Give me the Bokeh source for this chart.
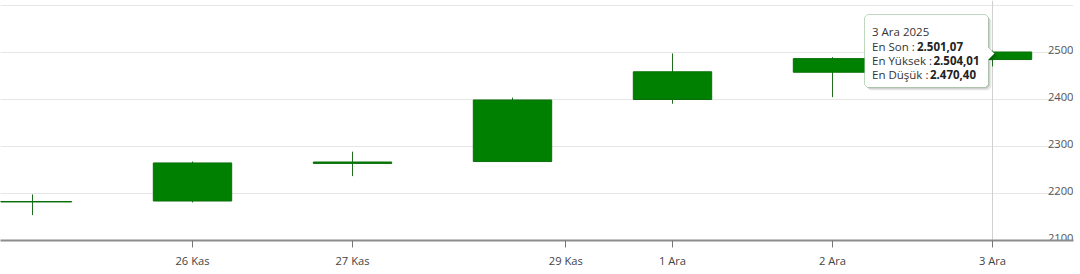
import numpy as np
import pandas as pd
from bokeh.plotting import figure
from bokeh.models import FixedTicker, Range1d, Span, PolyAnnotation, Label, Grid
from bokeh.core.properties import value
from bokeh.embed import file_html
from bokeh.resources import INLINE

# ---------------- data ----------------
dates = ["2025-11-25", "2025-11-26", "2025-11-27", "2025-11-28",
         "2025-12-01", "2025-12-02", "2025-12-03"]
open_ = [2182, 2184, 2264, 2268, 2400, 2458, 2485]
high = [2198, 2268, 2289, 2404, 2498, 2490, 2504.01]
low = [2154, 2181, 2237, 2267, 2391, 2405, 2470.40]
close = [2183, 2265, 2267, 2399, 2459, 2487, 2501.07]

tick_dates = ["2025-11-26", "2025-11-27", "2025-11-29",
              "2025-12-01", "2025-12-02", "2025-12-03"]
tick_labels = ["26 Kas", "27 Kas", "29 Kas", "1 Ara", "2 Ara", "3 Ara"]
y_grid = [2100, 2200, 2300, 2400, 2500, 2600]
y_label_values = [2100, 2200, 2300, 2400, 2500]
y_tick_labels = ["2100", "2200", "2300", "2400", "2500"]

tooltip_index = 6
tooltip_title = "3 Ara 2025"
tooltip_names = ["En Son :", "En Yüksek :", "En Düşük :"]

# ---------------- geometry ----------------
W, H = 1080, 274
FW, FH = 1073, 240
PX_X = 160.0        # px per trading day
PX_Y = 0.47         # px per price unit
x_start = -32 / PX_X
x_end = x_start + FW / PX_X
y_start = 2100
y_end = y_start + FH / PX_Y


def dx(px):
    return x_start + px / PX_X


def dy(py):
    return y_start + (FH - py) / PX_Y


idx = np.arange(len(dates))
d_ord = pd.to_datetime(dates).map(pd.Timestamp.toordinal).to_numpy(dtype=float)
t_ord = pd.to_datetime(tick_dates).map(pd.Timestamp.toordinal).to_numpy(dtype=float)
tick_pos = [float(v) for v in np.interp(t_ord, d_ord, idx)]

FONT = "Open Sans"
GREEN = "#008000"
WICK = "#1f6b1f"

p = figure(width=W, height=H, output_backend="svg", toolbar_location=None,
           x_range=Range1d(x_start, x_end), y_range=Range1d(y_start, y_end),
           y_axis_location=None, min_border_left=0, min_border_right=W - FW,
           min_border_top=0, min_border_bottom=H - FH,
           outline_line_color=None, background_fill_color="white",
           border_fill_color="white")

for g in p.grid:
    g.visible = False
grid = Grid(dimension=1, ticker=FixedTicker(ticks=y_grid),
            grid_line_color="#e6e6e6", grid_line_width=1)
p.add_layout(grid)

# crosshair
p.add_layout(Span(location=tooltip_index, dimension="height",
                  line_color="#d0d0d0", line_width=1, level="underlay"))

# x axis
ax = p.xaxis[0]
ax.ticker = FixedTicker(ticks=tick_pos)
ax.major_label_overrides = {tp: lab for tp, lab in zip(tick_pos, tick_labels)}
ax.axis_line_color = "#8c8c8c"
ax.axis_line_width = 2
ax.major_tick_line_color = "#777777"
ax.major_tick_in = 0
ax.major_tick_out = 7
ax.minor_tick_line_color = None
ax.major_label_standoff = 5
ax.major_label_text_font = FONT
ax.major_label_text_font_size = "11.2px"
ax.major_label_text_color = "#444444"

# candles
top = np.maximum(open_, close)
bot = np.minimum(open_, close)
p.segment(x0=idx, y0=low, x1=idx, y1=high, line_color=WICK, line_width=1)
p.vbar(x=idx, top=top, bottom=bot, width=0.49, fill_color=GREEN,
       line_color="#0a6f0a", line_width=1)

# y labels (inside, right aligned)
p.text(x=[x_end] * len(y_label_values), y=y_label_values, text=y_tick_labels,
       text_align="right", text_baseline="alphabetic", y_offset=-2.8,
       text_font=value(FONT), text_font_size="11.2px", text_color="#555555")

# ---------------- tooltip ----------------
L, R, T, B, r = 864, 988, 14, 87, 3
tip_x, tip_y, ah = 994, 53, 6
shape = [(L + r, T), (R - r, T), (R, T + r), (R, tip_y - ah), (tip_x, tip_y),
         (R, tip_y + ah), (R, B - r), (R - r, B), (L + r, B), (L, B - r),
         (L, T + r)]
for off, alpha in [(3, 0.06), (2, 0.08), (1, 0.10)]:
    p.add_layout(PolyAnnotation(xs=[dx(a + off) for a, b in shape],
                                ys=[dy(b + off) for a, b in shape],
                                fill_color="black", fill_alpha=alpha,
                                line_color=None))
p.add_layout(PolyAnnotation(xs=[dx(a) for a, b in shape],
                            ys=[dy(b) for a, b in shape],
                            fill_color="white", fill_alpha=1,
                            line_color="#2b7d2b", line_width=1))


def tr(v):
    s = f"{v:,.2f}"
    return s.replace(",", "X").replace(".", ",").replace("X", ".")


vals = [close[tooltip_index], high[tooltip_index], low[tooltip_index]]
p.add_layout(Label(x=dx(871.5), y=dy(30.7), text=tooltip_title,
                   text_font=FONT, text_font_size="11.5px", text_color="#333333",
                   text_baseline="alphabetic"))
baselines = [45.5, 59.8, 74.0]
bold_x = [916.5, 933.0, 929.5]
for name, v, bl, bx in zip(tooltip_names, vals, baselines, bold_x):
    p.add_layout(Label(x=dx(871.5), y=dy(bl), text=name,
                       text_font=FONT, text_font_size="11.5px",
                       text_color="#333333", text_baseline="alphabetic"))
    p.add_layout(Label(x=dx(bx), y=dy(bl), text=tr(v), text_font=FONT,
                       text_font_size="11.5px", text_font_style="bold",
                       text_color="#222222", text_baseline="alphabetic"))

open("out.html", "w").write(file_html(p, INLINE))
